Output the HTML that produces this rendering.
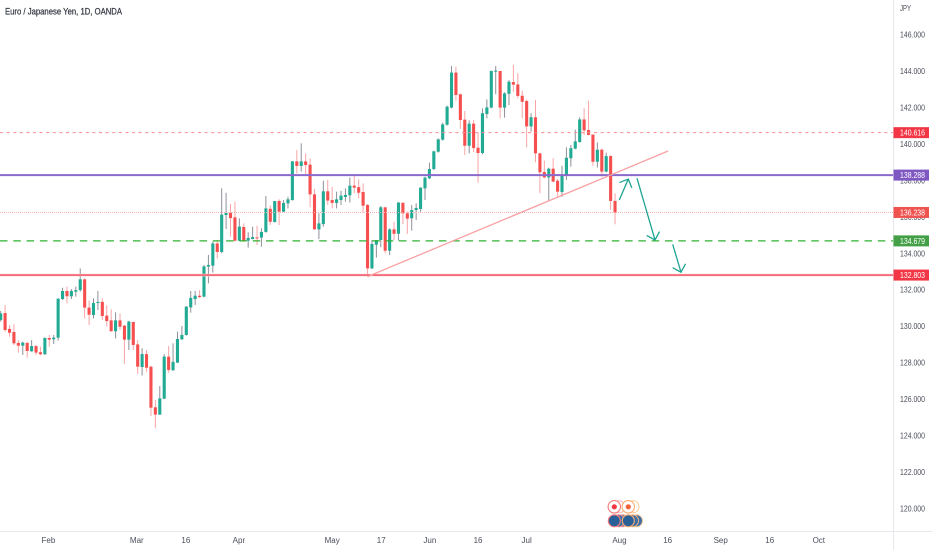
<!DOCTYPE html>
<html lang="en">
<head>
<meta charset="utf-8">
<title>Euro / Japanese Yen, 1D, OANDA</title>
<style>
html,body{margin:0;padding:0;background:#fff;width:932px;height:550px;overflow:hidden}
svg{display:block;font-family:"Liberation Sans",sans-serif}
</style>
</head>
<body>
<svg id="chart" width="932" height="550" viewBox="0 0 932 550" xmlns="http://www.w3.org/2000/svg">
  <rect x="0" y="0" width="932" height="550" fill="#ffffff"/>
  <text x="5" y="14.5" font-size="9.5" fill="#363a45" stroke="#363a45" stroke-width="0.25" textLength="117" lengthAdjust="spacingAndGlyphs">Euro / Japanese Yen, 1D, OANDA</text>
  <g id="candles"></g>
  <g id="levels"></g>
  <g id="drawings"></g>
  <line x1="893.5" y1="0" x2="893.5" y2="550" stroke="#e6e8ee" stroke-width="1"/>
  <line x1="0" y1="531.5" x2="932" y2="531.5" stroke="#e6e8ee" stroke-width="1"/>
  <text x="900" y="11" font-size="8.5" fill="#4a4e59" textLength="11" lengthAdjust="spacingAndGlyphs">JPY</text>
  <g id="price-axis"></g>
  <g id="time-axis"></g>
  <g id="level-tags"></g>
  <g>
    <g><circle cx="619" cy="506.8" r="6" fill="#fff" stroke="#f7b0b0" stroke-width="1"/></g>
    <g><circle cx="614.3" cy="506.8" r="6.2" fill="#fff" stroke="#f77a7a" stroke-width="1.1"/><circle cx="614.3" cy="506.8" r="2.6" fill="#f23645"/></g>
    <g><circle cx="633" cy="506.8" r="6" fill="#fff" stroke="#fbcb9a" stroke-width="1"/></g>
    <g><circle cx="628.3" cy="506.8" r="6.2" fill="#fff" stroke="#fbab70" stroke-width="1.1"/><circle cx="628.3" cy="506.8" r="2.6" fill="#f4603a"/></g>
    <g><circle cx="622.5" cy="520.8" r="6" fill="#3a6fa5" stroke="#f5a0a0" stroke-width="1"/><circle cx="618.5" cy="520.8" r="6" fill="#3a6fa5" stroke="#f78a8a" stroke-width="1"/></g>
    <g><circle cx="614.3" cy="520.8" r="6" fill="#2a6098" stroke="#f77a7a" stroke-width="1.1"/></g>
    <g><circle cx="636.5" cy="520.8" r="6" fill="#3a6fa5" stroke="#fcc494" stroke-width="1"/><circle cx="632.5" cy="520.8" r="6" fill="#3a6fa5" stroke="#fbb478" stroke-width="1"/></g>
    <g><circle cx="628.3" cy="520.8" r="6" fill="#2a6098" stroke="#fbab70" stroke-width="1.1"/></g>
  </g>
</svg>
<script>
var opens = [
130.34,130.72,129.85,129.68,129.08,128.93,129.08,128.62,128.91,128.57,
128.46,129.35,129.28,129.37,131.49,131.93,131.64,131.89,131.98,132.57,
131.02,130.61,131.27,131.33,130.58,130.32,129.72,130.32,130.03,129.26,
130.23,129.00,127.76,128.47,127.78,125.55,125.15,126.02,128.33,127.58,
128.00,129.28,129.52,131.03,131.49,131.67,131.62,133.27,133.32,134.54,
134.07,136.10,136.23,135.97,134.69,135.44,134.69,134.78,134.87,134.86,
135.17,136.44,135.71,136.87,136.28,136.74,136.92,139.04,138.79,139.04,
138.86,137.23,135.31,135.60,137.40,136.92,136.76,136.92,137.09,137.18,
137.71,137.63,137.36,136.65,133.17,134.47,134.73,136.52,134.14,135.31,
135.07,136.77,136.19,135.92,136.37,136.43,137.56,138.11,138.62,139.57,
140.23,141.05,141.99,143.91,142.72,141.33,139.90,141.11,139.79,139.50,
141.64,141.99,143.96,144.00,141.99,142.75,143.39,143.26,142.64,142.35,
140.96,141.46,139.48,138.46,138.16,138.64,137.98,137.36,138.25,139.21,
139.74,140.10,141.34,140.76,140.51,139.02,139.68,138.48,139.33,136.87];
var highs = [
130.83,131.16,130.06,130.10,129.24,129.15,129.15,129.24,128.97,128.88,
129.39,129.52,129.52,131.53,132.11,132.17,132.04,132.17,133.17,132.62,
131.40,131.53,131.93,131.53,131.14,130.92,130.76,130.70,130.06,130.30,
130.25,129.24,128.79,128.69,127.82,125.95,126.72,128.47,128.91,129.06,
129.70,130.01,131.11,131.93,131.93,131.98,133.36,133.91,134.64,134.73,
137.56,137.32,136.70,136.83,135.92,135.64,135.15,135.46,135.51,135.37,
137.14,136.63,136.87,136.96,136.92,137.10,139.06,139.66,140.03,139.48,
139.21,137.53,136.19,137.98,138.02,137.65,137.38,137.43,137.56,138.15,
138.33,138.05,137.83,136.70,134.73,134.73,136.59,136.55,135.37,135.73,
136.81,136.78,136.28,136.65,136.74,137.62,138.20,138.97,139.63,140.30,
141.16,142.10,144.27,144.23,142.77,141.80,141.29,141.31,140.63,141.95,
142.44,144.02,144.27,144.00,142.83,143.50,144.33,143.87,142.92,142.44,
141.68,142.41,139.52,139.08,138.69,139.21,138.07,138.80,139.81,139.94,
140.78,141.46,141.95,142.37,140.52,140.08,139.75,139.52,139.39,137.29];
var lows = [
130.25,129.70,129.42,128.97,128.55,128.42,128.27,128.60,128.42,128.40,
128.42,128.88,129.02,129.21,131.44,131.25,131.49,131.62,131.89,130.43,
130.06,130.43,130.89,130.34,129.97,129.70,129.33,129.79,127.93,128.69,
128.69,127.38,127.29,127.50,125.07,124.40,125.13,126.00,127.45,127.56,
127.98,129.24,129.48,130.74,131.16,131.53,131.58,132.35,132.94,133.72,
134.00,135.33,134.91,134.64,134.67,134.65,134.31,134.76,134.45,134.36,
135.13,135.55,135.70,135.55,136.26,136.46,136.89,138.38,138.48,138.35,
136.52,135.29,134.78,135.46,136.65,136.46,136.46,136.65,136.83,136.78,
137.29,137.01,136.23,132.72,133.13,133.76,134.33,134.00,133.90,134.73,
134.69,135.60,135.06,135.24,135.82,136.28,136.92,138.07,138.57,139.52,
140.18,141.00,141.95,142.37,140.82,139.39,139.48,139.54,137.87,139.43,
141.40,141.95,142.72,141.40,141.44,142.13,142.86,142.50,141.40,139.81,
140.67,138.99,137.29,138.11,136.88,137.91,137.10,137.10,138.02,138.75,
139.70,140.07,140.49,140.47,138.80,138.71,138.20,138.44,136.37,135.59];
var closes = [
130.70,129.79,129.64,129.06,128.93,129.10,128.64,128.91,128.55,128.46,
129.35,129.26,129.37,131.51,131.93,131.64,131.93,131.98,132.57,131.02,
130.63,131.27,131.33,130.56,130.28,129.72,130.32,129.97,129.26,130.25,
128.97,127.78,128.47,127.72,125.53,125.15,126.04,128.33,127.60,128.04,
129.30,129.52,131.07,131.55,131.67,131.60,133.28,133.36,134.54,134.07,
136.12,136.21,135.93,134.69,135.46,134.67,134.84,134.89,134.84,135.17,
136.46,135.73,136.86,136.28,136.76,136.96,139.04,138.79,139.04,138.84,
137.23,135.31,135.64,137.40,136.89,136.76,136.96,137.16,137.20,137.71,
137.60,137.32,136.61,133.17,134.51,134.72,136.52,134.14,135.31,135.07,
136.78,136.19,135.90,136.37,136.48,137.60,138.15,138.62,139.59,140.25,
141.07,142.04,143.91,142.68,141.31,139.90,141.11,139.77,139.50,141.68,
142.00,144.00,144.02,141.99,142.77,143.41,143.25,142.63,142.31,140.96,
141.46,139.48,138.44,138.16,138.64,137.93,137.38,138.29,139.24,139.76,
140.14,141.34,140.74,140.49,139.02,139.68,138.48,139.33,136.87,136.23];

var priceTicks = [146,144,142,140,138,136,134,132,130,128,126,124,122,120];
var timeLabels = ["Feb","Mar","16","Apr","May","17","Jun","16","Jul","Aug","16","Sep","16","Oct"];
var timeBars = [11.8,31.8,42.9,54.9,76,87.1,98.1,109,120,141,151.9,163.9,175,186.1];

var levelPrices = [140.616,138.288,136.238,134.679,132.803];
var levelNames = ["resistance-dashed","support-purple","last-price","target-green","support-red"];

var trendBars = [84,152];
var trendPrices = [132.72,139.61];

var arrowStartBars = [140.96,144.97,153.04];
var arrowStartPrices = [136.92,138.11,134.49];
var arrowTipBars = [143.0,149.04,154.92];
var arrowTipPrices = [138.07,134.73,132.96];

var SVGNS = "http://www.w3.org/2000/svg";
function xScale(bar){ return 0.67 + (bar - 1) * 4.42; }
function yScale(price){ return 34.5 + (146 - price) * 18.23; }
function make(tag, parent, attrs){
  var el = document.createElementNS(SVGNS, tag);
  for (var k in attrs) { el.setAttribute(k, attrs[k]); }
  parent.appendChild(el);
  return el;
}

function drawCandles(){
  var candleGroup = document.getElementById("candles");
  for (var i = 0; i < opens.length; i++) {
    var up = closes[i] >= opens[i];
    var cx = xScale(i + 1);
    var wick = make("line", candleGroup, {x1: cx, x2: cx, y1: yScale(highs[i]), y2: yScale(lows[i]), stroke: up ? "#8d9099" : "#f9a3a5", "stroke-width": 1});
    
    
    var bodyTop = yScale(Math.max(opens[i], closes[i]));
    var bodyBottom = yScale(Math.min(opens[i], closes[i]));
    var body = make("rect", candleGroup, {x: cx - 1.55, y: bodyTop, width: 3.1, height: Math.max(bodyBottom - bodyTop, 1), fill: up ? "#22ab94" : "#f5504f"});
    
    
  }
}

function drawLevels(){
  var levelGroup = document.getElementById("levels");
  var levelStrokes = ["#f98a8f","#8a68cc","#f9b3b3","#2eb02e","#ee2f45"];
  var levelWidths = [1,2,1,1.2,1.2];
  var levelDash = ["3 3.6","","1 1","7.5 5.8",""];
  var halo = make("line", levelGroup, {x1: 0, x2: 893, y1: yScale(levelPrices[4]), y2: yScale(levelPrices[4]), stroke: "#fcd0d2", "stroke-width": 2.6});
  
  
  for (var j = 0; j < levelPrices.length; j++) {
    var ly = yScale(levelPrices[j]);
    var levelLine = make("line", levelGroup, {x1: 0, x2: 893, y1: ly, y2: ly, stroke: levelStrokes[j], "stroke-width": levelWidths[j]});
    if (levelDash[j]) { levelLine.setAttribute("stroke-dasharray", levelDash[j]); }
    
    
  }
}

function drawAnnotations(){
  var drawGroup = document.getElementById("drawings");
  var trend = make("line", drawGroup, {x1: xScale(trendBars[0]), y1: yScale(trendPrices[0]), x2: xScale(trendBars[1]), y2: yScale(trendPrices[1]), stroke: "#f8a0a3", "stroke-width": 1.3});
  
  
  for (var a = 0; a < arrowTipBars.length; a++) {
    var sx = xScale(arrowStartBars[a]), sy = yScale(arrowStartPrices[a]);
    var tx = xScale(arrowTipBars[a]), ty = yScale(arrowTipPrices[a]);
    var ang = Math.atan2(sy - ty, sx - tx);
    var hl = 9.5, sp = Math.PI / 4;
    var d = "M" + sx + " " + sy + "L" + tx + " " + ty +
      "M" + (tx + hl * Math.cos(ang + sp)) + " " + (ty + hl * Math.sin(ang + sp)) +
      "L" + tx + " " + ty +
      "L" + (tx + hl * Math.cos(ang - sp)) + " " + (ty + hl * Math.sin(ang - sp));
    var arrow = make("path", drawGroup, {d: d, fill: "none", stroke: "#1fa592", "stroke-width": 1.3});
    
    
  }
}

function drawAxes(){
  var priceGroup = document.getElementById("price-axis");
  for (var p = 0; p < priceTicks.length; p++) {
    var pt = make("text", priceGroup, {x: 900, y: yScale(priceTicks[p]) + 3, "font-size": 8.5, fill: "#4a4e59", textLength: 25, lengthAdjust: "spacingAndGlyphs"});
    pt.textContent = priceTicks[p].toFixed(3);
    
    
  }
  var timeGroup = document.getElementById("time-axis");
  for (var t = 0; t < timeLabels.length; t++) {
    var tl = make("text", timeGroup, {x: xScale(timeBars[t]), y: 543, "font-size": 8, fill: "#4a4e59", "text-anchor": "middle"});
    tl.textContent = timeLabels[t];
    
    
  }
}

function drawTags(){
  var tagGroup = document.getElementById("level-tags");
  var tagFills = ["#f23645","#7e57c2","#ef5350","#43a047","#f23645"];
  for (var g = 0; g < levelPrices.length; g++) {
    var gy = yScale(levelPrices[g]);
    var tagRect = make("rect", tagGroup, {x: 893.5, y: gy - 5.5, width: 35.5, height: 11, fill: tagFills[g]});
    
    
    var tagText = make("text", tagGroup, {x: 900, y: gy + 3, "font-size": 8.5, fill: "#ffffff", textLength: 25, lengthAdjust: "spacingAndGlyphs"});
    tagText.textContent = levelPrices[g].toFixed(3);
    
    
  }
}

drawCandles();
drawLevels();
drawAnnotations();
drawAxes();
drawTags();
</script>
</body>
</html>
